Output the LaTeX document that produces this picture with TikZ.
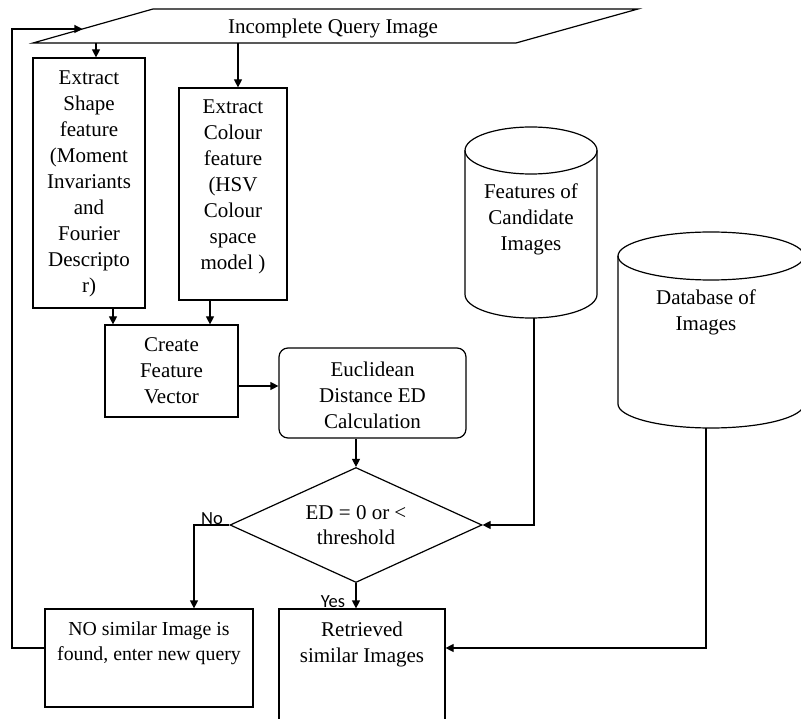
\documentclass[tikz,border=0pt]{standalone}
\usepackage{fontspec}
\setmainfont{Liberation Serif}
\newfontfamily\lblfont{Carlito}
\usetikzlibrary{arrows.meta,shapes.geometric,calc}
\newcommand{\bxt}[4]{\parbox[c][#2][t]{#1}{\centering\rule{0pt}{#3}#4\par}}
\begin{document}
\begin{tikzpicture}[x=1pt,y=-1pt,line width=1.2pt,
  arr/.style={-{Triangle[length=8pt,width=8pt]}},
  bx/.style={draw,rectangle,inner sep=0pt,font=\fontsize{21}{26}\selectfont},
  txt/.style={inner sep=0pt,font=\fontsize{21}{26}\selectfont},
  lbl/.style={inner sep=0pt,font=\lblfont\fontsize{18.5}{20}\selectfont}]
\useasboundingbox (0,0) rectangle (801,719);
\clip (0,0) rectangle (801,719);

% query parallelogram
\coordinate (qtl) at (153,9);
\coordinate (qtr) at (638,9);
\coordinate (qbr) at (516,43);
\coordinate (qbl) at (33,43);
\draw (qtl) -- (qtr) -- (qbr) -- (qbl) -- cycle;
\node[txt,anchor=base] (query) at (333,34) {Incomplete Query Image};
\coordinate (qin) at ($(qbl)!0.412!(qtl)$);

% boxes
\node[bx] (shape) at (89,183) {\bxt{112pt}{250pt}{26.5pt}{Extract\\Shape\\feature\\(Moment\\Invariants\\and\\Fourier\\Descripto\\r)}};
\node[bx] (colour) at (233,194) {\bxt{108pt}{212pt}{26pt}{Extract\\Colour\\feature\\(HSV\\Colour\\space\\model )}};
\node[bx] (cfv) at (171.5,371) {\bxt{133pt}{92pt}{27pt}{Create\\Feature\\Vector}};
\node[bx,rounded corners=9pt] (ed) at (372.5,393) {\bxt{187pt}{90pt}{29pt}{Euclidean\\Distance ED\\Calculation}};
\node[draw,diamond,aspect=2.19,minimum width=252pt,minimum height=115pt,inner sep=0pt,align=center,font=\fontsize{21}{25}\selectfont] (dec) at (356,525) {ED = 0 or <\\threshold};
\node[bx,font=\fontsize{19.8}{25}\selectfont] (nobox) at (149,658) {\bxt{208pt}{98pt}{26pt}{NO similar Image is\\found, enter new query}};
\node[bx] (ret) at (362,672) {\bxt{166pt}{126pt}{27pt}{Retrieved\\similar Images}};

% cylinders
\draw (465,150.5) -- (465,294.5) arc[start angle=180,end angle=0,x radius=66,y radius=23.5] -- (597,150.5);
\draw (531,150.5) ellipse [x radius=66,y radius=23.5];
\node[txt,anchor=north] (cand) at (531,172) {\bxt{120pt}{80pt}{26pt}{Features of\\Candidate\\Images}};
\coordinate (candbot) at (534,318);

\draw (618,256) -- (618,404) arc[start angle=180,end angle=0,x radius=93,y radius=24] -- (804,256);
\draw (711,256) ellipse [x radius=93,y radius=24];
\node[txt,anchor=north] (db) at (706,278) {\bxt{140pt}{60pt}{26pt}{Database of\\Images}};
\coordinate (dbbot) at (706,428);

% connectors
\coordinate (s1) at (96,43);
\coordinate (c1) at (238,43);
\draw[arr] (s1) -- (s1 |- shape.north);
\draw[arr] (c1) -- (c1 |- colour.north);
\coordinate (s2) at (113,0);
\coordinate (c2) at (210,0);
\draw[arr] (s2 |- shape.south) -- (s2 |- cfv.north);
\draw[arr] (c2 |- colour.south) -- (c2 |- cfv.north);
\coordinate (h1) at (0,386);
\draw[arr] (h1 -| cfv.east) -- (h1 -| ed.west);
\draw[arr] (dec.north |- ed.south) -- (dec.north);
\coordinate (nocol) at (194,0);
\draw[arr] (dec.west) -- (dec.west -| nocol) -- (nocol |- nobox.north);
\node[lbl] (nolbl) at (212,519) {No};
\draw[arr] (dec.south) -- (dec.south |- ret.north);
\node[lbl] (yeslbl) at (333,602) {Yes};
\coordinate (fb) at (12,648);
\draw[arr] (nobox.west |- fb) -- (fb) -- (fb |- qin) -- (qin);
\draw[arr] (candbot) -- (candbot |- dec.east) -- (dec.east);
\draw[arr] (dbbot) -- (dbbot |- fb) -- (ret.east |- fb);
\end{tikzpicture}
\end{document}
